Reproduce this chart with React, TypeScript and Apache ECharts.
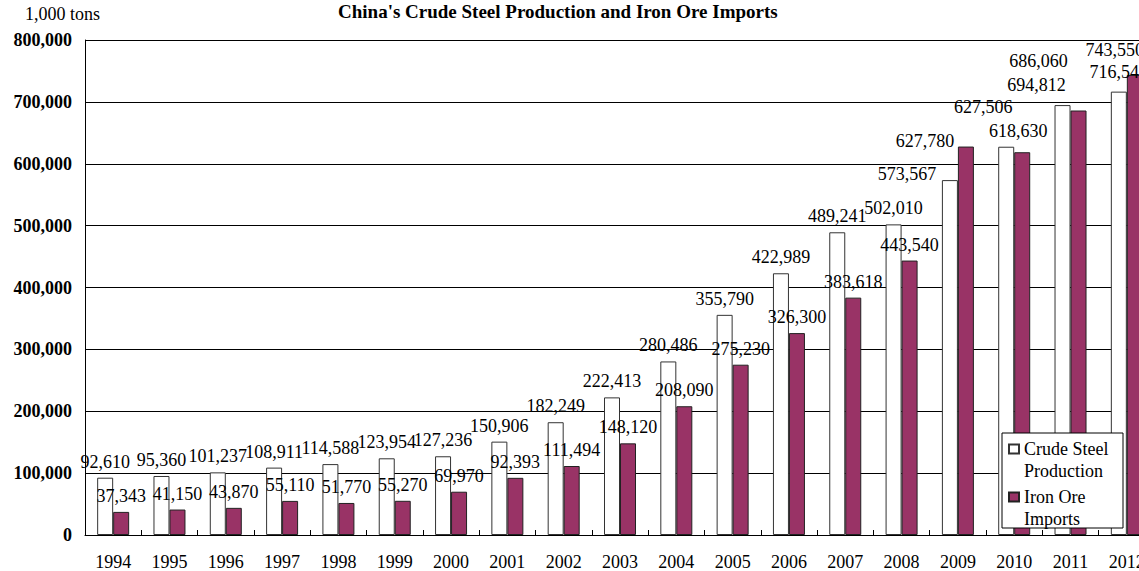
import React, { useEffect, useRef } from "react";
import * as echarts from "echarts";

const years = ["1994","1995","1996","1997","1998","1999","2000","2001","2002","2003","2004","2005","2006","2007","2008","2009","2010","2011","2012"];
const steelProduction = [92610, 95360, 101237, 108911, 114588, 123954, 127236, 150906, 182249, 222413, 280486, 355790, 422989, 489241, 502010, 573567, 627506, 694812, 716542];
const oreImports = [37343, 41150, 43870, 55110, 51770, 55270, 69970, 92393, 111494, 148120, 208090, 275230, 326300, 383618, 443540, 627780, 618630, 686060, 743550];
const yTicks = [0, 100000, 200000, 300000, 400000, 500000, 600000, 700000, 800000];

// label nudges (pixels) for the crowded right side, as in the source chart
const steelLabelNudge: Record<number, [number, number]> = { 15: [-43, 10], 16: [-23, -24], 17: [-26, -4], 18: [0, -4] };
const oreLabelNudge: Record<number, [number, number]> = { 15: [-41, 10], 16: [-4, -5], 17: [-40, -34], 18: [-20, -9] };

const SERIF = "'Liberation Serif', 'Times New Roman', serif";
const fmt = (v: number) => v.toLocaleString("en-US");

function buildData(values: number[], nudges: Record<number, [number, number]>) {
  return values.map((v, i) =>
    nudges[i] ? { value: v, label: { offset: nudges[i] } } : { value: v }
  );
}

export default function App() {
  const ref = useRef<HTMLDivElement>(null);
  useEffect(() => {
    if (!ref.current) return;
    const chart = echarts.init(ref.current, undefined, { renderer: "svg" });
    const labelStyle = {
      show: true,
      position: "top" as const,
      distance: 7,
      fontFamily: SERIF,
      fontSize: 18,
      color: "#000",
      formatter: (p: any) => fmt(p.value),
    };
    chart.setOption({
      animation: false,
      backgroundColor: "#fff",
      title: {
        text: "China's Crude Steel Production and Iron Ore Imports",
        left: 333,
        top: -3,
        textStyle: { fontFamily: SERIF, fontSize: 19, fontWeight: "bold", color: "#000" },
      },
      grid: { left: 85, top: 40, right: 0, height: 496, containLabel: false },
      legend: {
        orient: "vertical",
        left: 1008,
        top: 416,
        padding: 0,
        itemWidth: 10,
        itemHeight: 9,
        itemGap: -18,
        selectedMode: false,
        z: 20,
        icon: "rect",
        formatter: (name: string) =>
          name === "Crude Steel Production" ? "\nCrude Steel\nProduction" : "\nIron Ore\nImports",
        textStyle: {
          fontFamily: SERIF,
          fontSize: 18,
          lineHeight: 22,
          color: "#000",
        },
        data: ["Crude Steel Production", "Iron Ore Imports"],
      },
      graphic: [
        {
          type: "rect",
          z: 10,
          shape: { x: 1002, y: 433, width: 121, height: 95 },
          style: { fill: "#fff", stroke: "#000", lineWidth: 1 },
        },
      ],
      xAxis: {
        type: "category",
        data: years,
        boundaryGap: true,
        axisLine: { lineStyle: { color: "#000", width: 1 } },
        axisTick: { show: true, inside: true, length: 5, alignWithLabel: false, lineStyle: { color: "#000" } },
        axisLabel: { fontFamily: SERIF, fontSize: 18, color: "#000", margin: 18, interval: 0 },
      },
      yAxis: {
        type: "value",
        min: yTicks[0],
        max: yTicks[yTicks.length - 1],
        interval: yTicks[1] - yTicks[0],
        name: "1,000 tons",
        nameLocation: "end",
        nameGap: 17,
        nameTextStyle: { fontFamily: SERIF, fontSize: 18, color: "#000", align: "center", padding: [0, 45, 0, 0] },
        axisLine: { show: true, lineStyle: { color: "#000", width: 1 } },
        axisTick: { show: false },
        splitLine: { show: true, lineStyle: { color: "#000", width: 1 } },
        axisLabel: {
          fontFamily: SERIF,
          fontSize: 18,
          fontWeight: "bold",
          color: "#000",
          margin: 13,
          formatter: (v: number) => fmt(v),
        },
      },
      series: [
        {
          name: "Crude Steel Production",
          type: "bar",
          barWidth: 16,
          barGap: "0%",
          itemStyle: { color: "#ffffff", borderColor: "#333", borderWidth: 1 },
          label: labelStyle,
          data: buildData(steelProduction, steelLabelNudge),
        },
        {
          name: "Iron Ore Imports",
          type: "bar",
          barWidth: 16,
          barGap: "0%",
          itemStyle: { color: "#993366", borderColor: "#222", borderWidth: 1 },
          label: labelStyle,
          data: buildData(oreImports, oreLabelNudge),
        },
      ],
    });
    return () => chart.dispose();
  }, []);
  return (
    <div
      ref={ref}
      style={{ position: "fixed", left: 0, top: 0, width: 1155, height: 571, background: "#fff" }}
    />
  );
}
